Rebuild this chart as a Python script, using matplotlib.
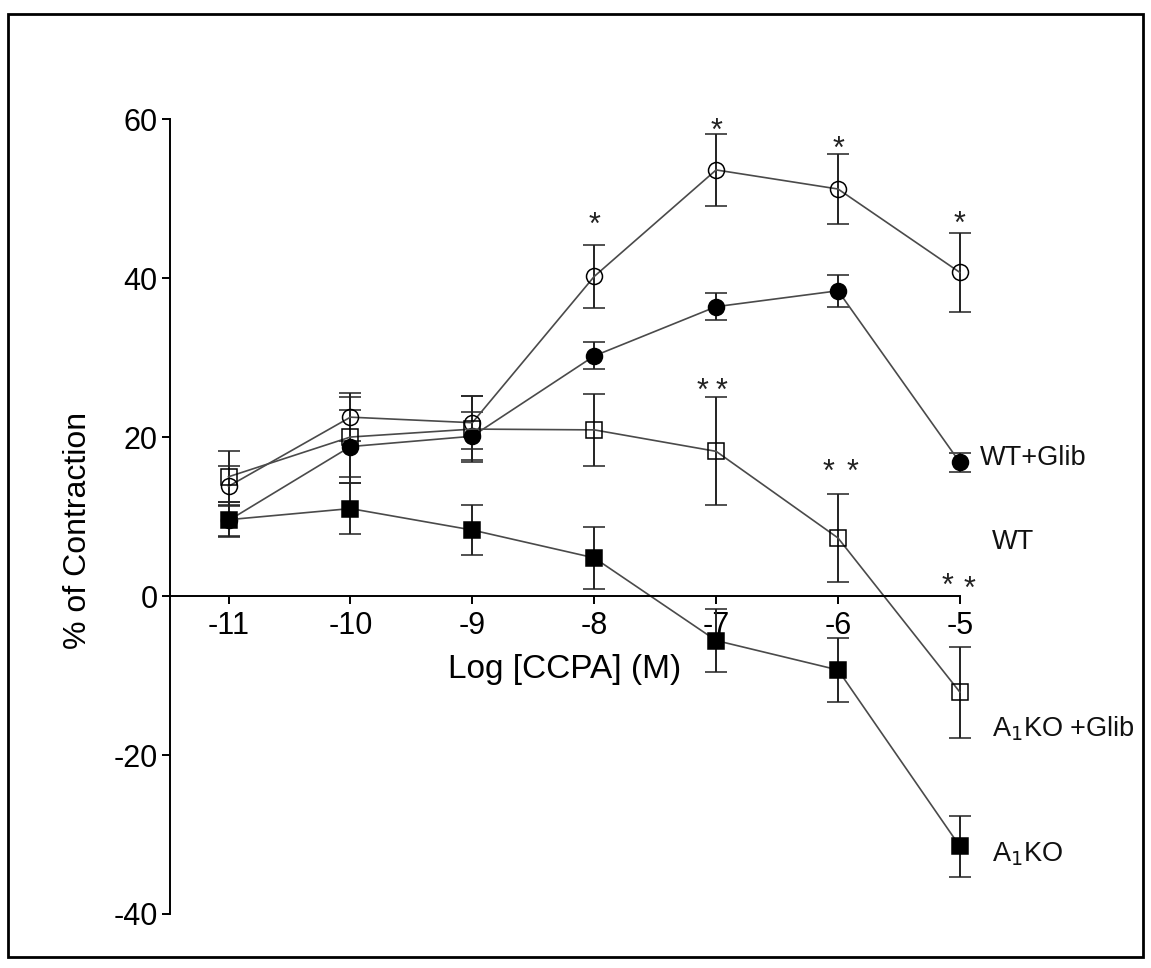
import matplotlib
matplotlib.use("Agg")
import matplotlib.pyplot as plt
from matplotlib.patches import Rectangle
import numpy as np

plt.rcParams['font.family'] = ['Liberation Sans', 'DejaVu Sans']
plt.rcParams['axes.unicode_minus'] = False

# data
log_ccpa = [-11, -10, -9, -8, -7, -6, -5]

wt_glib_mean = [9.5, 18.8, 20.1, 30.2, 36.4, 38.4, 16.8]      # filled circle
wt_glib_err = [2.0, 4.6, 3.0, 1.7, 1.7, 2.0, 1.2]
open_circ_mean = [13.8, 22.5, 21.8, 40.2, 53.6, 51.2, 40.7]   # open circle
open_circ_err = [2.5, 3.0, 3.3, 4.0, 4.5, 4.4, 5.0]
a1ko_glib_mean = [15.0, 20.0, 21.0, 20.9, 18.2, 7.3, -12.1]    # open square
a1ko_glib_err = [3.2, 5.0, 4.1, 4.5, 6.8, 5.5, 5.7]
a1ko_mean = [9.6, 11.0, 8.3, 4.8, -5.6, -9.3, -31.5]           # filled square
a1ko_err = [2.2, 3.2, 3.2, 3.9, 4.0, 4.0, 3.8]

# significance stars
star_x = [-8, -7, -6, -5, -7.11, -6.96, -6.08, -5.88, -5.10, -4.92]
star_y = [47.8, 59.6, 57.4, 48.0, 27.0, 27.0, 16.8, 16.8, 2.4, 2.0]

side_labels = ['WT+Glib', 'WT', r'A$_1$KO +Glib', r'A$_1$KO']
side_label_x = [-4.84, -4.74, -4.74, -4.74]
side_label_y = [17.3, 6.8, -16.7, -32.5]

fig = plt.figure(figsize=(11.51, 9.68), dpi=100)
ax = fig.add_axes([0.1477, 0.0558, 0.834 - 0.1477, 0.877 - 0.0558])

line_c = '#4a4a4a'
err_c = '#222222'

series = [
    (open_circ_mean, open_circ_err, 'o', 'none', 11.5),
    (wt_glib_mean, wt_glib_err, 'o', 'black', 11.5),
    (a1ko_glib_mean, a1ko_glib_err, 's', 'none', 11.5),
    (a1ko_mean, a1ko_err, 's', 'black', 11.5),
]
for mean, err, mk, fc, ms in series:
    cont = ax.errorbar(log_ccpa, mean, yerr=err, fmt='-', color=line_c, lw=1.2,
                       marker=mk, markersize=ms, markerfacecolor=fc,
                       markeredgecolor='black', markeredgewidth=1.1,
                       ecolor=err_c, elinewidth=1.4, capsize=8, capthick=1.4)
    for art in cont.get_children():
        art.set_clip_on(False)

for x, y in zip(star_x, star_y):
    ax.annotate('*', (x, y), xytext=(0, -13), textcoords='offset points',
                ha='center', va='baseline', fontsize=22, color='#222222',
                annotation_clip=False)

for lab, x, y in zip(side_labels, side_label_x, side_label_y):
    ax.text(x, y, lab, fontsize=19.5, ha='left', va='center', color='#111111')

ax.set_xlim(-11.48, -5)
ax.set_ylim(-40, 60)
ax.set_xticks(log_ccpa)
ax.set_yticks([-40, -20, 0, 20, 40, 60])
ax.spines['top'].set_visible(False)
ax.spines['right'].set_visible(False)
ax.spines['bottom'].set_position(('data', 0))
ax.spines['left'].set_linewidth(1.4)
ax.spines['bottom'].set_linewidth(1.4)
ax.tick_params(axis='both', direction='out', length=6, width=1.4, labelsize=22)
ax.tick_params(axis='x', pad=5)
ax.tick_params(axis='y', pad=3)

ax.set_xlabel('Log [CCPA] (M)', fontsize=24)
ax.xaxis.set_label_coords(0.5, 0.307)
ax.xaxis.label.set_va('center')
ax.set_ylabel('% of Contraction', fontsize=23)
ax.yaxis.set_label_coords(-0.117, 0.482)
ax.yaxis.label.set_va('center')

fig.patches.append(Rectangle((8 / 1151, 11 / 968), 1135 / 1151, 943 / 968,
                             transform=fig.transFigure, fill=False,
                             edgecolor='black', lw=2))

fig.savefig('out.png', dpi=100)
